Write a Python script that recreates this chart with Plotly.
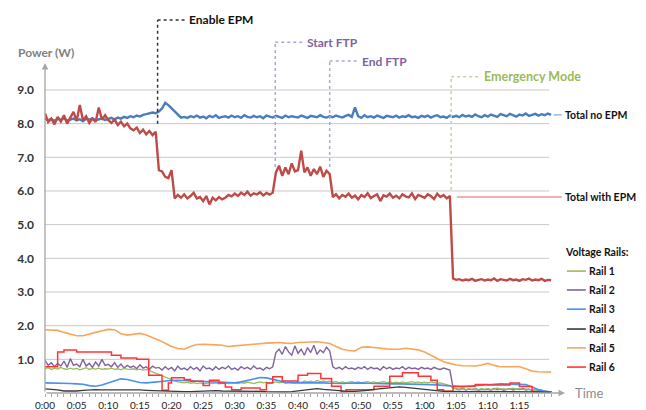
import plotly.graph_objects as go

# ---------------- data (time in minutes) ----------------
time_half = [i / 2 for i in range(161)]      # 0.0 .. 80.0 min, 30 s samples
time_min = list(range(81))                   # 0 .. 80 min

total_no_epm = [
    8.15, 8.10, 8.13, 8.08, 8.14, 8.11, 8.16, 8.09, 8.12, 8.15, 8.10, 8.13, 8.07, 8.14, 8.12, 8.16, 8.10, 8.13, 8.15, 8.11,
    8.14, 8.17, 8.12, 8.18, 8.15, 8.20, 8.17, 8.22, 8.19, 8.24, 8.21, 8.26, 8.28, 8.30, 8.33, 8.31, 8.36, 8.45, 8.62, 8.55,
    8.45, 8.35, 8.25, 8.18, 8.20, 8.17, 8.22, 8.19, 8.24, 8.18, 8.21, 8.16, 8.23, 8.19, 8.25, 8.17, 8.20, 8.22, 8.18, 8.24,
    8.19, 8.22, 8.17, 8.25, 8.20, 8.18, 8.23, 8.19, 8.22, 8.16, 8.24, 8.20, 8.18, 8.23, 8.21, 8.17, 8.24, 8.19, 8.22, 8.20,
    8.18, 8.24, 8.20, 8.17, 8.23, 8.21, 8.19, 8.25, 8.20, 8.18, 8.22, 8.19, 8.24, 8.21, 8.18, 8.23, 8.26, 8.20, 8.48, 8.22,
    8.17, 8.25, 8.19, 8.22, 8.18, 8.24, 8.20, 8.17, 8.23, 8.21, 8.19, 8.24, 8.18, 8.22, 8.20, 8.25, 8.19, 8.21, 8.17, 8.23,
    8.20, 8.24, 8.18, 8.22, 8.25, 8.19, 8.21, 8.17, 8.24, 8.20, 8.23, 8.19, 8.26, 8.21, 8.24, 8.20, 8.27, 8.22, 8.19, 8.25,
    8.21, 8.27, 8.23, 8.20, 8.28, 8.24, 8.22, 8.29, 8.25, 8.21, 8.27, 8.24, 8.30, 8.23, 8.26, 8.29, 8.24, 8.28, 8.25, 8.30,
    8.26,
]

total_with_epm = [
    8.30, 8.05, 8.15, 7.98, 8.20, 8.06, 8.25, 8.00, 8.18, 8.35, 8.08, 8.55, 8.10, 8.22, 8.02, 8.15, 8.05, 8.48, 8.12, 8.25,
    8.10, 8.02, 8.12, 7.96, 8.06, 7.92, 8.00, 7.86, 7.80, 7.88, 7.72, 7.82, 7.68, 7.78, 7.66, 7.76, 6.62, 6.58, 6.42, 6.38,
    6.62, 5.78, 5.88, 5.80, 5.90, 5.78, 5.85, 5.95, 5.78, 5.82, 5.70, 5.85, 5.60, 5.80, 5.72, 5.82, 5.75, 5.80, 5.88, 5.84,
    5.92, 5.85, 5.95, 5.88, 5.98, 5.86, 5.93, 5.90, 5.96, 5.87, 5.94, 5.89, 5.95, 6.55, 6.75, 6.45, 6.70, 6.50, 6.82, 6.58,
    6.62, 7.20, 6.55, 6.70, 6.45, 6.65, 6.50, 6.72, 6.42, 6.60, 6.50, 5.82, 5.90, 5.78, 5.88, 5.83, 5.92, 5.80, 5.86, 5.75,
    5.88, 5.82, 5.93, 5.79, 5.85, 5.90, 5.70, 5.87, 5.83, 5.92, 5.80, 5.86, 5.78, 5.90, 5.84, 5.81, 5.93, 5.76, 5.88, 5.83,
    5.80, 5.90, 5.85, 5.76, 5.92, 5.82, 5.88, 5.78, 5.85, 3.40, 3.36, 3.38, 3.34, 3.37, 3.35, 3.39, 3.33, 3.36, 3.38, 3.34,
    3.37, 3.35, 3.40, 3.33, 3.38, 3.36, 3.34, 3.39, 3.35, 3.37, 3.33, 3.38, 3.36, 3.40, 3.34, 3.37, 3.35, 3.39, 3.33, 3.36,
    3.35,
]

rail1 = [
    0.72, 0.75, 0.70, 0.74, 0.71, 0.76, 0.72, 0.70, 0.74, 0.71, 0.73, 0.69, 0.72, 0.75, 0.70, 0.73, 0.71, 0.74, 0.70, 0.72,
    0.71, 0.74, 0.70, 0.72, 0.69, 0.73, 0.71, 0.70, 0.72, 0.69, 0.71, 0.68, 0.70, 0.66, 0.62, 0.58, 0.55, 0.50, 0.46, 0.42,
    0.38, 0.36, 0.33, 0.32, 0.30, 0.32, 0.29, 0.31, 0.28, 0.30, 0.27, 0.29, 0.31, 0.28, 0.30, 0.27, 0.29, 0.30, 0.28, 0.31,
    0.30, 0.28, 0.31, 0.29, 0.32, 0.30, 0.28, 0.31, 0.33, 0.30, 0.32, 0.29, 0.31, 0.33, 0.30, 0.32, 0.29, 0.31, 0.33, 0.30,
    0.34, 0.31, 0.36, 0.33, 0.35, 0.32, 0.37, 0.34, 0.36, 0.33, 0.35, 0.32, 0.34, 0.31, 0.33, 0.30, 0.32, 0.34, 0.31, 0.33,
    0.30, 0.32, 0.34, 0.31, 0.33, 0.30, 0.32, 0.34, 0.31, 0.33, 0.30, 0.32, 0.31, 0.33, 0.30, 0.32, 0.34, 0.31, 0.33, 0.30,
    0.32, 0.30, 0.33, 0.31, 0.29, 0.30, 0.28, 0.26, 0.22, 0.14, 0.12, 0.11, 0.13, 0.10, 0.12, 0.11, 0.13, 0.10, 0.12, 0.11,
    0.13, 0.10, 0.12, 0.14, 0.11, 0.13, 0.10, 0.12, 0.14, 0.11, 0.13, 0.10, 0.12, 0.11, 0.09, 0.10, 0.08, 0.07, 0.05, 0.04,
    0.03,
]

rail2 = [
    0.98, 0.82, 0.90, 0.78, 0.88, 0.80, 0.95, 0.76, 1.02, 0.82, 0.86, 0.78, 1.00, 0.80, 0.88, 0.76, 0.92, 0.80, 1.00, 0.82,
    0.85, 0.78, 0.90, 0.76, 0.86, 0.74, 0.82, 0.76, 0.80, 0.72, 0.84, 0.74, 0.78, 0.70, 0.80, 0.74, 0.76, 0.68, 0.78, 0.70,
    0.76, 0.66, 0.80, 0.70, 0.74, 0.68, 0.78, 0.70, 0.76, 0.66, 0.80, 0.72, 0.74, 0.68, 0.78, 0.70, 0.76, 0.72, 0.80, 0.70,
    0.74, 0.68, 0.78, 0.72, 0.76, 0.70, 0.80, 0.72, 0.74, 0.68, 0.76, 0.72, 0.78, 1.20, 1.30, 1.15, 1.38, 1.22, 1.12, 1.40,
    1.18, 1.30, 1.12, 1.35, 1.20, 1.42, 1.15, 1.28, 1.20, 1.36, 1.25, 0.78, 0.72, 0.76, 0.70, 0.78, 0.72, 0.74, 0.70, 0.76,
    0.72, 0.78, 0.70, 0.76, 0.72, 0.74, 0.68, 0.78, 0.72, 0.76, 0.70, 0.74, 0.72, 0.78, 0.70, 0.76, 0.72, 0.74, 0.70, 0.76,
    0.72, 0.74, 0.70, 0.76, 0.72, 0.70, 0.74, 0.72, 0.68, 0.16, 0.12, 0.10, 0.14, 0.09, 0.12, 0.10, 0.13, 0.09, 0.12, 0.10,
    0.12, 0.09, 0.13, 0.10, 0.12, 0.08, 0.11, 0.13, 0.09, 0.12, 0.10, 0.13, 0.09, 0.11, 0.08, 0.10, 0.07, 0.08, 0.05, 0.04,
    0.03,
]

rail3 = [
    0.30, 0.30, 0.29, 0.28, 0.28, 0.27, 0.26, 0.22, 0.20, 0.24, 0.30, 0.36, 0.42, 0.40, 0.35, 0.31, 0.30, 0.32, 0.35, 0.36,
    0.37, 0.38, 0.37, 0.36, 0.35, 0.34, 0.35, 0.33, 0.33, 0.31, 0.30, 0.33, 0.38, 0.43, 0.46, 0.45, 0.40, 0.35, 0.32, 0.30,
    0.30, 0.31, 0.32, 0.30, 0.30, 0.29, 0.28, 0.28, 0.29, 0.30, 0.30, 0.29, 0.28, 0.28, 0.28, 0.27, 0.27, 0.27, 0.27, 0.27,
    0.26, 0.25, 0.24, 0.22, 0.20, 0.18, 0.18, 0.20, 0.22, 0.24, 0.25, 0.26, 0.27, 0.27, 0.27, 0.26, 0.25, 0.18, 0.10, 0.05,
    0.03,
]

rail4 = [
    0.12, 0.11, 0.09, 0.06, 0.05, 0.06, 0.08, 0.10, 0.10, 0.09, 0.09, 0.10, 0.11, 0.11, 0.10, 0.09, 0.08, 0.07, 0.06, 0.06,
    0.05, 0.05, 0.04, 0.04, 0.05, 0.06, 0.07, 0.07, 0.06, 0.06, 0.06, 0.07, 0.06, 0.05, 0.05, 0.04, 0.03, 0.03, 0.03, 0.04,
    0.06, 0.09, 0.12, 0.13, 0.11, 0.09, 0.07, 0.06, 0.05, 0.05, 0.06, 0.08, 0.11, 0.13, 0.15, 0.17, 0.18, 0.17, 0.15, 0.13,
    0.10, 0.07, 0.05, 0.05, 0.05, 0.04, 0.04, 0.04, 0.05, 0.05, 0.05, 0.05, 0.05, 0.05, 0.05, 0.04, 0.04, 0.03, 0.03, 0.02,
    0.02,
]

rail5 = [
    1.88, 1.87, 1.86, 1.80, 1.76, 1.70, 1.70, 1.74, 1.80, 1.85, 1.89, 1.88, 1.76, 1.72, 1.74, 1.77, 1.72, 1.65, 1.57, 1.48,
    1.38, 1.32, 1.30, 1.38, 1.44, 1.45, 1.45, 1.43, 1.42, 1.38, 1.40, 1.42, 1.43, 1.45, 1.47, 1.48, 1.49, 1.50, 1.48, 1.47,
    1.50, 1.51, 1.52, 1.52, 1.50, 1.47, 1.38, 1.30, 1.26, 1.25, 1.36, 1.37, 1.35, 1.32, 1.31, 1.30, 1.30, 1.33, 1.30, 1.28,
    1.22, 1.13, 1.03, 0.93, 0.88, 0.83, 0.81, 0.80, 0.80, 0.83, 0.88, 0.82, 0.78, 0.78, 0.78, 0.78, 0.72, 0.65, 0.63, 0.62,
    0.62,
]

rail6_time = [0, 2, 3, 5, 10.5, 12, 14.5, 16.4, 18.5, 19.5, 20, 22, 23, 25, 26, 27.5, 28.5, 29.5, 31, 34, 35, 36,
              37.5, 40, 41.5, 43.6, 45.3, 46.8, 47.6, 52, 54.5, 56.5, 59, 61, 62, 63, 64.5, 68, 70, 73.5, 75, 77, 80]
rail6 = [0.78, 1.22, 1.28, 1.22, 1.12, 1.04, 1.00, 0.53, 0.08, 0.30, 0.45, 0.40, 0.35, 0.22, 0.38, 0.30, 0.18, 0.10,
         0.15, 0.10, 0.30, 0.48, 0.36, 0.53, 0.58, 0.43, 0.20, 0.04, 0.10, 0.20, 0.50, 0.60, 0.50, 0.38, 0.10, 0.05,
         0.20, 0.25, 0.24, 0.30, 0.19, 0.04, 0.03]

event_names = ["Enable EPM", "Start FTP", "End FTP", "Emergency Mode"]
event_times = [17.8, 36.4, 45.0, 64.2]

rail_names = ["Rail 1", "Rail 2", "Rail 3", "Rail 4", "Rail 5", "Rail 6"]
y_ticks = [1, 2, 3, 4, 5, 6, 7, 8, 9]
x_tick_labels = {m: f"{m // 60}:{m % 60:02d}" for m in range(0, 76, 5)}

# ---------------- styling ----------------
C_TOTAL_NO = "#4A7EBB"
C_TOTAL_WITH = "#BE4B48"
rail_colors = ["#9BBB59", "#8064A2", "#4A8FF2", "#3A3A3A", "#F9A65A", "#FF3535"]
GRID = "#C8C8C8"
AXIS = "#A6A6A6"
FONT = "Lato, 'Open Sans', sans-serif"
LABEL_SIZE = 10.5

fig = go.Figure()


def add_line(x, y, color, width, shape="linear", name=None):
    fig.add_trace(go.Scatter(x=x, y=y, mode="lines", name=name,
                             line=dict(color=color, width=width, shape=shape),
                             showlegend=False, hoverinfo="skip"))


add_line(time_min, rail5, rail_colors[4], 1.6, name="Rail 5")
add_line(time_half, rail2, rail_colors[1], 1.4, name="Rail 2")
add_line(time_half, rail1, rail_colors[0], 1.3, name="Rail 1")
add_line(time_min, rail3, rail_colors[2], 1.6, name="Rail 3")
add_line(rail6_time, rail6, rail_colors[5], 1.5, shape="hv", name="Rail 6")
add_line(time_min, rail4, rail_colors[3], 1.3, name="Rail 4")
add_line(time_half, total_no_epm, C_TOTAL_NO, 2.4, name="Total no EPM")
add_line(time_half, total_with_epm, C_TOTAL_WITH, 2.4, name="Total with EPM")

shapes = []
annotations = []

# gridlines
for v in y_ticks:
    shapes.append(dict(type="line", xref="x", yref="y", x0=0, x1=79.7, y0=v, y1=v,
                       line=dict(color=GRID, width=1), layer="below"))

# axis arrows
annotations.append(dict(x=82.2, y=0, ax=0, ay=0, xref="x", yref="y", axref="x", ayref="y",
                        text="", showarrow=True, arrowhead=2, arrowsize=1, arrowwidth=1.3,
                        arrowcolor=AXIS))
annotations.append(dict(x=0, y=9.8, ax=0, ay=0, xref="x", yref="y", axref="x", ayref="y",
                        text="", showarrow=True, arrowhead=2, arrowsize=1, arrowwidth=1.3,
                        arrowcolor=AXIS))
annotations.append(dict(x=83.4, y=0, xref="x", yref="y", text="Time", showarrow=False,
                        xanchor="left", yanchor="middle",
                        font=dict(family=FONT, size=13, color="#8C8C8C")))
annotations.append(dict(x=0.2, y=10.1, xref="x", yref="y", text="<b>Power (W)</b>", showarrow=False,
                        xanchor="center", yanchor="middle",
                        font=dict(family=FONT, size=12, color="#808080")))

# events: (bottom, top, horizontal end)
event_geom = [(8.0, 11.08, 22.2), (6.71, 10.42, 40.8), (6.71, 9.86, 49.6), (6.03, 9.39, 68.8)]
event_line_colors = ["#333333", "#B2A5D3", "#B2A5D3", "#C2D69A"]
event_text_colors = ["#111111", "#7F62A3", "#7F62A3", "#9BBB59"]
for name, t, (yb, yt, xe), lc, tc in zip(event_names, event_times, event_geom,
                                         event_line_colors, event_text_colors):
    shapes.append(dict(type="line", xref="x", yref="y", x0=t, x1=t, y0=yb, y1=yt,
                       line=dict(color=lc, width=1.5, dash="dot")))
    shapes.append(dict(type="line", xref="x", yref="y", x0=t, x1=xe, y0=yt, y1=yt,
                       line=dict(color=lc, width=1.5, dash="dot")))
    annotations.append(dict(x=xe + 0.25, y=yt, xref="x", yref="y", text=f"<b>{name}</b>",
                            showarrow=False, xanchor="left", yanchor="middle",
                            font=dict(family=FONT, size=12.5 if name == "Emergency Mode" else 12,
                                      color=tc)))

# series labels
shapes.append(dict(type="line", xref="x", yref="y", x0=80.4, x1=81.7, y0=8.26, y1=8.26,
                   line=dict(color="#9DB9DC", width=1.5)))
annotations.append(dict(x=81.9, y=8.26, xref="x", yref="y", text="<b>Total no EPM</b>",
                        showarrow=False, xanchor="left", yanchor="middle",
                        font=dict(family=FONT, size=LABEL_SIZE, color="#111111")))
shapes.append(dict(type="line", xref="x", yref="y", x0=65.1, x1=81.7, y0=5.82, y1=5.82,
                   line=dict(color="#E39A98", width=1.5)))
annotations.append(dict(x=81.9, y=5.82, xref="x", yref="y", text="<b>Total with EPM</b>",
                        showarrow=False, xanchor="left", yanchor="middle",
                        font=dict(family=FONT, size=LABEL_SIZE, color="#111111")))

# rail legend
annotations.append(dict(x=81.9, y=4.19, xref="x", yref="y", text="<b>Voltage Rails:</b>",
                        showarrow=False, xanchor="left", yanchor="middle",
                        font=dict(family=FONT, size=LABEL_SIZE, color="#111111")))
legend_y = [3.62, 3.06, 2.49, 1.90, 1.34, 0.77]
for name, col, ly in zip(rail_names, rail_colors, legend_y):
    shapes.append(dict(type="line", xref="x", yref="y", x0=82.5, x1=85.5, y0=ly, y1=ly,
                       line=dict(color=col, width=1.6)))
    annotations.append(dict(x=85.6, y=ly, xref="x", yref="y", text=f"<b>{name}</b>",
                            showarrow=False, xanchor="left", yanchor="middle",
                            font=dict(family=FONT, size=LABEL_SIZE, color="#111111")))

# The page body adds an 8px offset, so the figure is 8px smaller than the window.
fig.update_layout(
    width=638, height=402,
    margin=dict(l=37, r=0, t=0, b=17),
    plot_bgcolor="white", paper_bgcolor="white",
    showlegend=False,
    font=dict(family=FONT),
    xaxis=dict(range=[0, 95], showgrid=False, zeroline=False, showline=False,
               tickmode="array", tickvals=time_min,
               ticktext=[x_tick_labels.get(m, "") for m in time_min],
               ticks="outside", ticklen=3, tickcolor=AXIS, tickwidth=1,
               tickfont=dict(family=FONT, size=10, color="#222222")),
    yaxis=dict(range=[0, 11.434], showgrid=False, zeroline=False, showline=False,
               tickmode="array", tickvals=y_ticks, ticktext=[f"{v:.1f}" for v in y_ticks],
               ticks="", ticklabelstandoff=10,
               tickfont=dict(family=FONT, size=12, color="#333333", weight="bold")),
    shapes=shapes,
    annotations=annotations,
)

fig.write_html("out.html")
